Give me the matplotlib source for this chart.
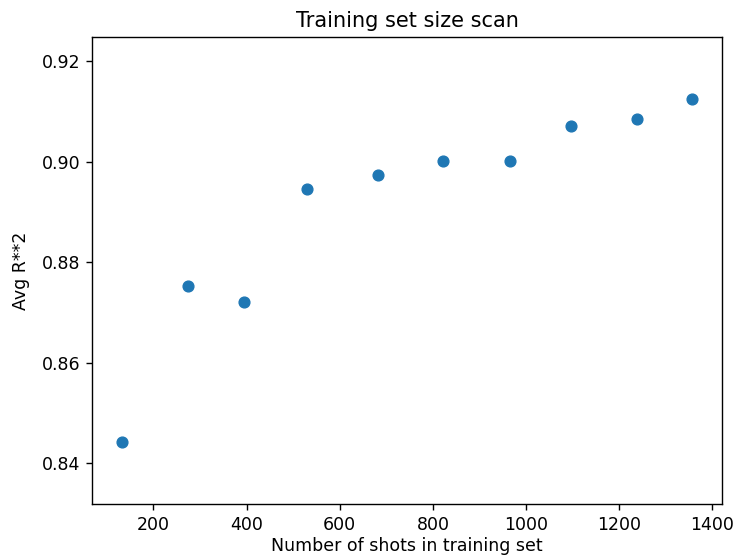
import matplotlib
matplotlib.use("Agg")
import matplotlib.pyplot as plt

# training set sizes and the averaged R**2
n_shots = [132, 274, 394, 529, 682, 821, 965, 1096, 1239, 1357]
avg_r2 = [0.8442, 0.8752, 0.8721, 0.8946, 0.8974, 0.9001, 0.9001, 0.9071, 0.9084, 0.9124]

scale = 1.25
plt.rcParams['font.size'] = 10 * scale
plt.rcParams['axes.linewidth'] = 0.8 * scale
plt.rcParams['xtick.major.size'] = 3.5 * scale
plt.rcParams['ytick.major.size'] = 3.5 * scale
plt.rcParams['xtick.major.width'] = 0.8 * scale
plt.rcParams['ytick.major.width'] = 0.8 * scale
plt.rcParams['xtick.major.pad'] = 3.5 * scale
plt.rcParams['ytick.major.pad'] = 3.5 * scale

fig = plt.figure(figsize=(7.34, 5.57), dpi=100)
ax = fig.add_axes([0.1258, 0.0946, 0.8575, 0.8390])

ax.scatter(n_shots, avg_r2, s=60, color='#1f77b4')

ax.set_xlim(69, 1420)
ax.set_ylim(0.8318, 0.9248)
ax.set_xticks([200, 400, 600, 800, 1000, 1200, 1400])
ax.set_yticks([0.84, 0.86, 0.88, 0.90, 0.92])

ax.set_title('Training set size scan', pad=6 * scale)
ax.set_xlabel('Number of shots in training set', labelpad=2)
ax.set_ylabel('Avg R**2', labelpad=8)

fig.savefig('out.png', dpi=100)
